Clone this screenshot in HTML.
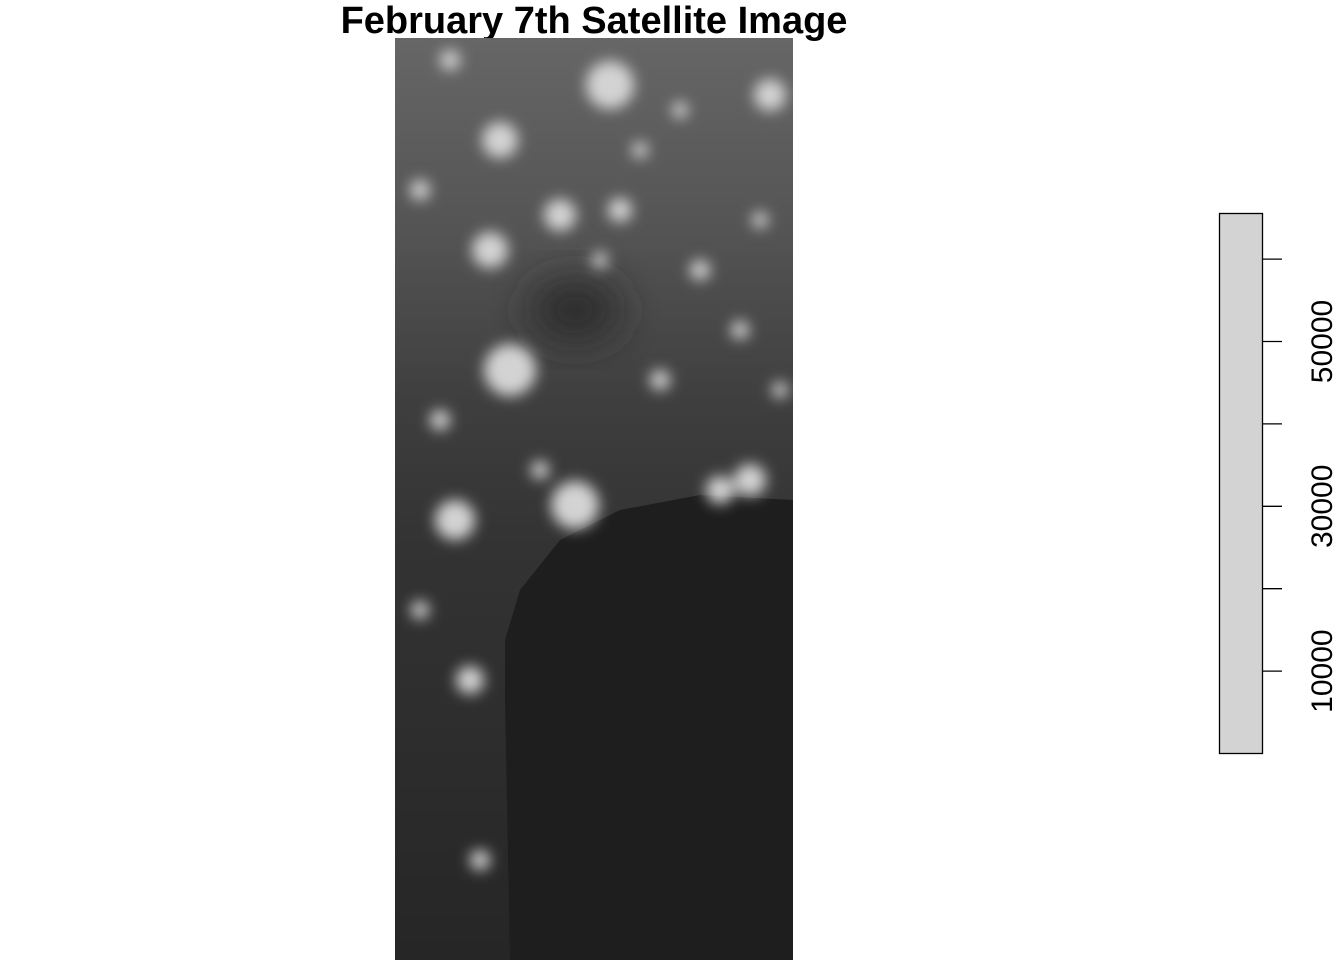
<!DOCTYPE html>
<html><head><meta charset="utf-8"><style>
html,body{margin:0;padding:0;background:#fff;}
svg{display:block;font-family:"Liberation Sans",Arial,sans-serif;}
</style></head><body>
<svg width="1344" height="960" viewBox="0 0 1344 960">
<defs>
<filter id="b8" x="-50%" y="-50%" width="200%" height="200%"><feGaussianBlur stdDeviation="7"/></filter>
<filter id="b20" x="-50%" y="-50%" width="200%" height="200%"><feGaussianBlur stdDeviation="20"/></filter>
<linearGradient id="vg" x1="0" y1="0" x2="0" y2="1">
<stop offset="0" stop-color="#666"/><stop offset="0.2" stop-color="#555"/><stop offset="0.4" stop-color="#3e3e3e"/><stop offset="0.55" stop-color="#333"/><stop offset="1" stop-color="#262626"/>
</linearGradient>
<clipPath id="imgclip"><rect x="395" y="38" width="398" height="922"/></clipPath>
</defs>
<text x="594" y="33" text-anchor="middle" font-size="38" font-weight="bold">February 7th Satellite Image</text>
<g clip-path="url(#imgclip)">
<rect x="395" y="38" width="398" height="922" fill="url(#vg)"/>
<ellipse cx="575" cy="310" rx="45" ry="30" fill="#2c2c2c" filter="url(#b20)"/>
<path d="M793 500 L700 495 L620 510 L560 540 L520 590 L505 640 L505 700 L510 960 L793 960 Z" fill="#1e1e1e"/>
<g id="blobs" fill="#d3d3d3" filter="url(#b8)"></g>
</g>
<g>
<rect x="1219.5" y="213.5" width="43" height="540" fill="#d3d3d3" stroke="#000" stroke-width="1.3"/>
<g id="ticks"></g>
</g>
<script>
const tickValues = [10000, 20000, 30000, 40000, 50000, 60000];
const tickLabels = ["10000", "", "30000", "", "50000", ""];
const legendMin = 0, legendMax = 65535;
const blobX = [610,500,510,575,455,490,560,770,470,420,480,620,440,700,660,750,540,600,420,740,720,450,640,680,760,780];
const blobY = [85,140,370,505,520,250,215,95,680,610,860,210,420,270,380,480,470,260,190,330,490,60,150,110,220,390];
const blobR = [24,18,26,24,20,18,16,16,14,9,10,12,10,10,10,16,9,8,10,9,14,10,8,8,8,8];
const ns="http://www.w3.org/2000/svg";
const yScale=v=>753.5-(v-legendMin)/(legendMax-legendMin)*540;
const tg=document.getElementById('ticks');
tickValues.forEach((v,i)=>{
 const y=yScale(v);
 const l=document.createElementNS(ns,'line');
 l.setAttribute('x1',1262.5);l.setAttribute('x2',1282);l.setAttribute('y1',y);l.setAttribute('y2',y);
 l.setAttribute('stroke','#000');l.setAttribute('stroke-width','1.3');
 
 
 tg.appendChild(l);
 if(tickLabels[i]){
  const t=document.createElementNS(ns,'text');
  t.setAttribute('x',0);t.setAttribute('y',0);
  t.setAttribute('transform',`translate(1332,${y}) rotate(-90)`);
  t.setAttribute('text-anchor','middle');t.setAttribute('font-size','30');
  t.textContent=tickLabels[i];
  
  
  tg.appendChild(t);
 }
});
const bg=document.getElementById('blobs');
blobX.forEach((x,i)=>{
 const c=document.createElementNS(ns,'circle');
 c.setAttribute('cx',x);c.setAttribute('cy',blobY[i]);c.setAttribute('r',blobR[i]);
 
 
 bg.appendChild(c);
});
</script>
</svg>
</body></html>
